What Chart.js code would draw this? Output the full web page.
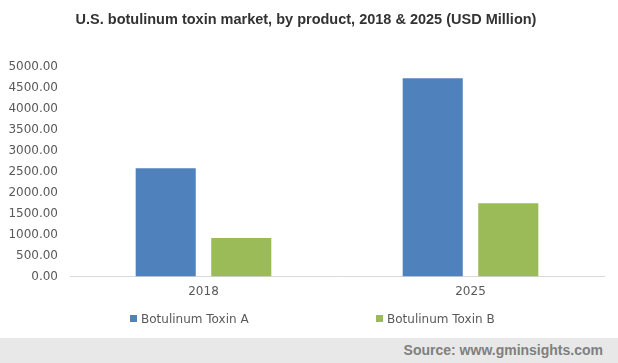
<!DOCTYPE html>
<html>
<head>
<meta charset="utf-8">
<script src="https://cdn.jsdelivr.net/npm/chart.js@4.4.0/dist/chart.umd.min.js"></script>
<style>
  html, body { margin: 0; padding: 0; background: #fff; }
  #wrap { position: relative; width: 618px; height: 338px; }
  #legend { position: absolute; left: 0; top: 311px; width: 618px; height: 16px; }
  .item { position: absolute; top: 0; font: 12px "DejaVu Sans", sans-serif; color: #595959; line-height: 16px; white-space: nowrap; }
  .box { display: inline-block; width: 7px; height: 7px; margin-right: 4px; vertical-align: 1px; }
  #footer {
    width: 618px; height: 25px; background: #e8e8e8;
    font: bold 14px "Liberation Sans", Arial, sans-serif; color: #7f7f7f;
    text-align: right; box-sizing: border-box; padding-right: 15px; line-height: 25px;
  }
</style>
</head>
<body>
<div id="wrap">
  <canvas id="chart" width="618" height="338"></canvas>
  <div id="legend"></div>
</div>
<div id="footer">Source: www.gminsights.com</div>
<script>
// chart data
const years = ['2018', '2025'];
const toxinA = [2580, 4720];
const toxinB = [920, 1745];
const seriesNames = ['Botulinum Toxin A', 'Botulinum Toxin B'];
const seriesColors = ['#4f81bd', '#9bbb59'];

const tickFont = { family: 'DejaVu Sans', size: 12 };

function drawChart() {
  const ctx = document.getElementById('chart').getContext('2d');
  const chart = new Chart(ctx, {
    type: 'bar',
    data: {
      labels: years,
      datasets: [{
        label: seriesNames[0],
        data: toxinA,
        backgroundColor: seriesColors[0],
        categoryPercentage: 0.566,
        barPercentage: 0.795
      }, {
        label: seriesNames[1],
        data: toxinB,
        backgroundColor: seriesColors[1],
        categoryPercentage: 0.566,
        barPercentage: 0.795
      }]
    },
    options: {
      responsive: false,
      animation: false,
      layout: { padding: { left: 8, right: 14, top: 0, bottom: 31 } },
      plugins: {
        title: {
          display: true,
          text: 'U.S. botulinum toxin market, by product, 2018 & 2025 (USD Million)',
          color: '#333333',
          font: { family: 'Liberation Sans', size: 14.5, weight: 'bold' },
          padding: { top: 11, bottom: 38 }
        },
        legend: { display: false },
        tooltip: { enabled: false }
      },
      scales: {
        x: {
          grid: { display: false, drawTicks: false },
          border: { display: true, color: '#d9d9d9', width: 1 },
          ticks: { color: '#595959', font: tickFont, padding: 8 }
        },
        y: {
          min: 0,
          max: 5000,
          grid: { display: false, drawTicks: false },
          border: { display: false },
          afterFit: scale => { scale.width = 62; },
          ticks: {
            stepSize: 500,
            autoSkip: false,
            padding: 12,
            color: '#595959',
            font: tickFont,
            callback: v => v.toFixed(2)
          }
        }
      }
    }
  });

  // legend built from the dataset names and colours
  const legend = document.getElementById('legend');
  const starts = [130, 376];
  chart.data.datasets.forEach((ds, i) => {
    const item = document.createElement('span');
    item.className = 'item';
    item.style.left = starts[i] + 'px';
    item.innerHTML = '<span class="box" style="background:' + ds.backgroundColor + '"></span>' + ds.label;
    legend.appendChild(item);
  });
}

window.onload = drawChart;
</script>
</body>
</html>
